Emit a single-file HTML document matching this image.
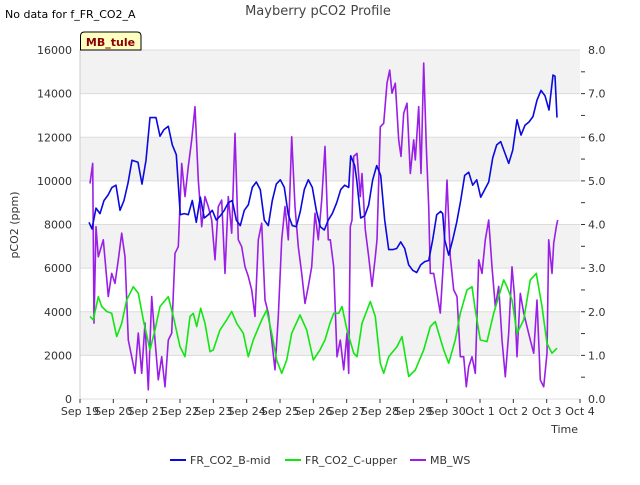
<!DOCTYPE html>
<html><head><meta charset="utf-8"><style>
body{margin:0;background:#fff;font-family:"Liberation Sans","DejaVu Sans",sans-serif;}
svg text{font-family:"DejaVu Sans","Liberation Sans",sans-serif;}
</style></head><body>
<svg id="c" width="640" height="480" xmlns="http://www.w3.org/2000/svg"></svg>
<script>
const xTickLabels=["Sep 19","Sep 20","Sep 21","Sep 22","Sep 23","Sep 24","Sep 25","Sep 26","Sep 27","Sep 28","Sep 29","Sep 30","Oct 1","Oct 2","Oct 3","Oct 4"];
const yTicks=[0,2000,4000,6000,8000,10000,12000,14000,16000];
const y2Labels=["0.0","1.0","2.0","3.0","4.0","5.0","6.0","7.0","8.0"];
const blueT=[.27,.36,.48,.60,.72,.84,.96,1.08,1.20,1.32,1.44,1.56,1.74,1.86,1.98,2.10,2.28,2.40,2.52,2.65,2.77,2.89,3.01,3.13,3.25,3.37,3.49,3.61,3.73,3.85,3.97,4.09,4.21,4.33,4.45,4.57,4.69,4.81,4.93,5.05,5.17,5.29,5.41,5.53,5.65,5.77,5.89,6.01,6.13,6.25,6.37,6.49,6.61,6.73,6.85,6.97,7.09,7.21,7.33,7.45,7.57,7.70,7.82,7.94,8.06,8.12,8.24,8.30,8.42,8.54,8.66,8.78,8.90,9.02,9.14,9.26,9.38,9.50,9.62,9.74,9.86,9.98,10.10,10.22,10.34,10.46,10.58,10.70,10.82,10.88,10.94,11.06,11.18,11.30,11.42,11.54,11.66,11.78,11.90,12.02,12.14,12.26,12.38,12.50,12.62,12.74,12.86,12.98,13.11,13.23,13.35,13.47,13.59,13.71,13.83,13.95,14.07,14.19,14.25,14.31];
const blueV=[8100,7800,8750,8500,9100,9350,9700,9800,8650,9100,9900,10950,10850,9850,10950,12900,12900,12050,12350,12500,11650,11200,8450,8500,8450,9100,8100,9250,8300,8450,8650,8200,8400,8650,9000,9100,8200,7950,8650,8900,9700,9950,9600,8200,7950,9100,9850,10050,9700,8450,7950,7900,8600,9600,10050,9700,8650,7900,7750,8200,8500,9000,9600,9800,9700,11150,10700,10050,8300,8400,8900,10050,10700,10250,8200,6850,6850,6900,7200,6900,6150,5900,5800,6150,6300,6350,7300,8450,8600,8500,7300,6600,7300,8100,9100,10250,10400,9800,10050,9250,9600,9950,11050,11650,11800,11300,10800,11400,12800,12100,12550,12700,12950,13700,14150,13900,13250,14850,14800,12900];
const greenT=[.30,.40,.55,.65,.80,.95,1.10,1.25,1.40,1.60,1.75,1.90,2.10,2.25,2.40,2.65,2.80,3.00,3.15,3.30,3.40,3.50,3.62,3.75,3.90,4.00,4.20,4.40,4.55,4.70,4.90,5.05,5.20,5.45,5.60,5.75,5.90,6.05,6.20,6.35,6.60,6.80,7.00,7.20,7.35,7.50,7.61,7.76,7.86,8.01,8.21,8.31,8.46,8.71,8.86,9.01,9.11,9.26,9.51,9.66,9.86,10.06,10.31,10.51,10.66,10.76,10.91,11.06,11.26,11.41,11.61,11.76,11.86,12.01,12.21,12.41,12.71,12.81,12.96,13.11,13.31,13.51,13.69,13.86,14.01,14.16,14.31];
const greenV=[3780,3625,4690,4240,4010,3930,2860,3470,4540,5150,4850,3625,2250,3170,4240,4690,3780,2400,1940,3780,3930,3320,4160,3470,2170,2250,3170,3625,4010,3470,3010,1940,2710,3625,4080,3010,1790,1180,1790,3010,3850,3170,1790,2250,2710,3470,3930,3930,4240,3170,2100,1940,3470,4470,3780,1640,1180,1940,2400,2860,1030,1330,2250,3320,3550,3010,2250,1640,2710,3930,5000,5150,4080,2710,2630,3930,5460,5150,4540,3010,3625,5460,5760,4240,2550,2100,2330];
const purpleT=[.30,.38,.42,.48,.55,.70,.85,.95,1.05,1.15,1.25,1.35,1.45,1.55,1.65,1.75,1.85,1.95,2.05,2.15,2.25,2.35,2.45,2.55,2.65,2.75,2.85,2.95,3.05,3.15,3.25,3.35,3.45,3.55,3.65,3.75,3.85,3.95,4.05,4.15,4.25,4.35,4.45,4.55,4.65,4.75,4.85,4.95,5.05,5.15,5.25,5.35,5.45,5.55,5.65,5.75,5.85,5.95,6.05,6.15,6.25,6.35,6.45,6.55,6.65,6.75,6.85,6.95,7.05,7.15,7.25,7.35,7.45,7.51,7.61,7.71,7.81,7.91,8.01,8.06,8.11,8.16,8.21,8.31,8.41,8.46,8.56,8.66,8.76,8.86,8.91,9.01,9.11,9.21,9.29,9.36,9.46,9.56,9.63,9.71,9.81,9.91,10.01,10.06,10.16,10.23,10.31,10.39,10.46,10.51,10.61,10.71,10.81,10.91,11.01,11.11,11.21,11.31,11.41,11.51,11.59,11.66,11.76,11.86,11.96,12.06,12.16,12.26,12.36,12.46,12.56,12.66,12.76,12.86,12.96,13.03,13.11,13.21,13.31,13.41,13.51,13.61,13.71,13.81,13.91,14.01,14.06,14.16,14.21,14.29,14.33];
const purpleV=[4.94,5.40,1.74,3.95,3.26,3.65,2.35,2.88,2.65,3.19,3.80,3.26,1.35,0.97,0.59,1.51,0.59,1.74,0.21,2.35,1.35,0.44,0.97,0.28,1.35,1.51,3.34,3.49,5.40,4.64,5.33,5.94,6.70,5.02,3.95,4.64,4.41,4.10,3.19,4.41,4.56,2.88,4.64,3.80,6.09,3.65,3.49,3.03,2.81,2.50,1.89,3.65,4.03,2.27,1.97,1.35,0.67,1.89,3.65,4.41,3.65,6.01,4.41,3.49,2.88,2.19,2.58,3.03,4.26,3.65,4.56,5.79,3.65,3.65,3.03,0.97,1.35,0.67,1.51,0.59,3.95,4.10,5.56,5.63,4.64,5.17,3.88,3.26,2.58,3.26,3.65,6.24,6.32,7.24,7.54,7.01,7.24,5.94,5.56,6.55,6.78,5.17,5.94,5.48,6.70,5.17,7.70,5.79,4.41,2.88,2.88,2.42,1.97,3.26,5.02,3.26,2.50,2.35,0.97,0.97,0.28,0.74,0.97,0.59,3.19,2.88,3.65,4.10,3.03,2.12,2.58,1.35,0.51,1.51,3.03,2.42,0.97,2.42,1.97,1.66,1.35,1.05,2.27,0.44,0.28,1.05,3.65,2.88,3.57,3.95,4.10];

const NS="http://www.w3.org/2000/svg";
const svg=document.getElementById('c');
const X0=80,X1=580,Y0=399,Y1=50;
const xs=d=>X0+d*(X1-X0)/15;
const ys=v=>Y0-v*(Y0-Y1)/16000;
const ys2=v=>Y0-v*(Y0-Y1)/8;
function mk(tag,attrs,parent){const e=document.createElementNS(NS,tag);for(const k in attrs)e.setAttribute(k,attrs[k]);(parent||svg).appendChild(e);return e;}
function txt(s,attrs){const e=mk('text',attrs);e.textContent=s;return e;}

let g=mk('g',{});


for(let i=0;i<8;i++){
  const r=mk('rect',{x:X0,y:ys(yTicks[i+1]),width:X1-X0,height:ys(yTicks[i])-ys(yTicks[i+1]),fill:(i%2==1)?'#f2f2f2':'#ffffff'},g);
  
  
}
yTicks.forEach((v,i)=>{
  const l=mk('line',{x1:X0,x2:X1,y1:ys(v),y2:ys(v),stroke:'#dcdcdc','stroke-width':1},g);
  
  
  const t=txt(String(v),{x:72,y:ys(v)+4,'text-anchor':'end','font-size':11,fill:'#333'});
  
  
});
y2Labels.forEach((s,i)=>{
  const t=txt(s,{x:588,y:ys2(i)+4,'font-size':11,fill:'#333'});
  
  
});
for(let i=1;i<16;i++){
  const l=mk('line',{x1:X1+1,x2:X1+5,y1:ys2(i*0.5),y2:ys2(i*0.5),stroke:'#333'});
  
  
}
xTickLabels.forEach((s,i)=>{
  const t=txt(s,{x:xs(i),y:415,'text-anchor':'middle','font-size':11,fill:'#333'});
  
  
  const l=mk('line',{x1:xs(i),x2:xs(i),y1:Y0,y2:Y0+4,stroke:'#333'});
  
  
});
const ax=mk('line',{x1:X0,x2:X0,y1:Y1,y2:Y0,stroke:'#ccc'});



function series(T,V,yf,color,name){
  const pts=T.map((t,i)=>xs(t).toFixed(1)+','+yf(V[i]).toFixed(1)).join(' ');
  const p=mk('polyline',{points:pts,fill:'none',stroke:color,'stroke-width':1.6,'stroke-linejoin':'round'});
  
  
}
series(purpleT,purpleV,ys2,'#9b1ee6','series-mb-ws');
series(greenT,greenV,ys,'#12e612','series-fr-co2-c-upper');
series(blueT,blueV,ys,'#0a0adf','series-fr-co2-b-mid');

let t=txt('Mayberry pCO2 Profile',{x:318,y:15,'text-anchor':'middle','font-size':13,fill:'#444'});


t=txt('No data for f_FR_CO2_A',{x:5,y:18,'font-size':11,fill:'#000'});


t=txt('pCO2 (ppm)',{x:18,y:225,'text-anchor':'middle','font-size':11,fill:'#333',transform:'rotate(-90 18 225)'});


t=txt('Time',{x:578,y:433,'text-anchor':'end','font-size':11,fill:'#333'});


const sb=mk('path',{d:'M80.5,50 L80.5,36 Q80.5,32 84.5,32 L137,32 Q141,32 141,36 L141,50 Z',fill:'#ffffc2',stroke:'#000','stroke-width':1});


t=txt('MB_tule',{x:110.5,y:46,'text-anchor':'middle','font-size':11,'font-weight':'bold',fill:'#8b0000'});



const leg=[['FR_CO2_B-mid','#0a0adf',170],['FR_CO2_C-upper','#12e612',285],['MB_WS','#9b1ee6',410]];
leg.forEach(([s,c,x])=>{
  const l=mk('line',{x1:x,x2:x+16,y1:460,y2:460,stroke:c,'stroke-width':2});
  
  
  const tt=txt(s,{x:x+20,y:464,'font-size':11,fill:'#333'});
  
  
});
</script>
</body></html>
